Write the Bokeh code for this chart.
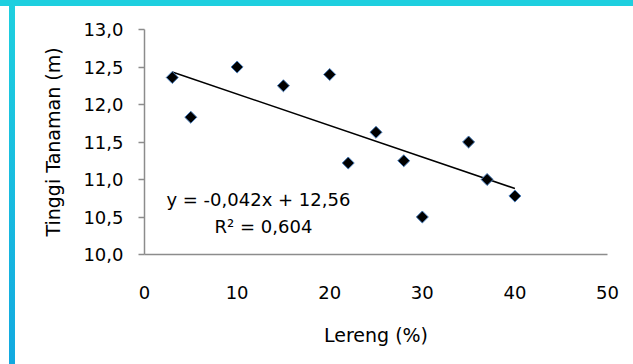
import math
from bokeh.plotting import figure
from bokeh.models import Range1d, FixedTicker, CustomJSTickFormatter, Label, Div
from bokeh.layouts import column, row
from bokeh.embed import file_html
from bokeh.resources import INLINE

# ---- data ----
lereng = [3, 5, 10, 15, 20, 22, 25, 28, 30, 35, 37, 40]
tinggi = [12.36, 11.83, 12.50, 12.25, 12.40, 11.22, 11.63, 11.25, 10.50, 11.50, 11.00, 10.78]
slope = -0.042
intercept = 12.56
eq_text = "y = -0,042x + 12,56"
r2_text = "R² = 0,604"
x_ticks = [0, 10, 20, 30, 40, 50]
y_ticks = [10.0, 10.5, 11.0, 11.5, 12.0, 12.5, 13.0]
x_title = "Lereng (%)"
y_title = "Tinggi Tanaman (m)"

FONT = "DejaVu Sans"

p = figure(width=618, height=358, output_backend="svg", toolbar_location=None,
           x_range=Range1d(0, 50), y_range=Range1d(10, 13),
           min_border_left=129, min_border_right=26, min_border_top=23, min_border_bottom=110)
p.outline_line_color = None
p.grid.visible = False
p.background_fill_color = "white"
p.border_fill_color = "white"

# axes
for ax in (p.xaxis[0], p.yaxis[0]):
    ax.axis_line_color = "#8c8c8c"
    ax.axis_line_width = 1.5
    ax.major_tick_line_color = "#8c8c8c"
    ax.major_tick_line_width = 1.5
    ax.minor_tick_line_color = None
    ax.major_label_text_font = FONT
    ax.major_label_text_font_size = "18px"
    ax.major_label_text_color = "black"
    ax.axis_label_text_font = FONT
    ax.axis_label_text_font_size = "19px"
    ax.axis_label_text_font_style = "normal"
    ax.axis_label_text_color = "black"

p.xaxis.ticker = FixedTicker(ticks=x_ticks)
p.xaxis.major_tick_out = 0
p.xaxis.major_tick_in = 0
p.xaxis.major_label_standoff = 31
p.xaxis.axis_label = x_title
p.xaxis.axis_label_standoff = 22

p.yaxis.ticker = FixedTicker(ticks=y_ticks)
p.yaxis.formatter = CustomJSTickFormatter(code="return tick.toFixed(1).replace('.', ',');")
p.yaxis.major_tick_out = 6
p.yaxis.major_tick_in = 0
p.yaxis.major_label_standoff = 15
p.yaxis.axis_label = y_title
p.yaxis.axis_label_standoff = 16

# trend line from the equation coefficients
tx = [min(lereng), max(lereng)]
ty = [slope * v + intercept for v in tx]
p.line(tx, ty, line_color="black", line_width=1.5)

# points
p.scatter(lereng, tinggi, marker="square", angle=math.pi / 4, size=8.5,
          fill_color="black", line_color="#4a7ebb", line_width=1)

# equation labels
p.add_layout(Label(x=12.3, y=10.73, text=eq_text, text_font=FONT, text_font_size="18px",
                   text_align="center", text_baseline="middle", text_color="black"))
p.add_layout(Label(x=12.85, y=10.37, text=r2_text, text_font=FONT, text_font_size="18px",
                   text_align="center", text_baseline="middle", text_color="black"))

# frame decoration (cyan bars)
top_bar = Div(width=633, height=6, margin=0, styles={"background-color": "#1ecfdf"})
left_white = Div(width=9, height=358, margin=0, styles={"background-color": "white"})
left_bar = Div(width=6, height=358, margin=0,
               styles={"background": "linear-gradient(#1ecfdf, #12a9e0)"})
p.margin = 0
layout = column(top_bar, row(left_white, left_bar, p, spacing=0), spacing=0)

open("out.html", "w").write(file_html(layout, INLINE))
